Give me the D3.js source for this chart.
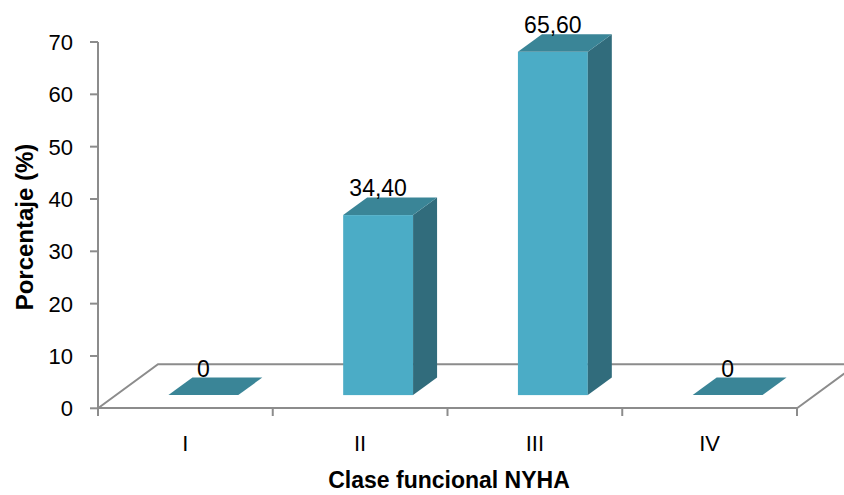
<!DOCTYPE html>
<html>
<head>
<meta charset="utf-8">
<script src="https://cdn.jsdelivr.net/npm/d3@7"></script>
<style>
  html, body { margin: 0; padding: 0; background: #fff; }
  svg { display: block; font-family: "Liberation Sans", Arial, sans-serif; }
</style>
</head>
<body>
<svg id="chart" width="844" height="495"></svg>
<script>
// NYHA functional class distribution (percent of patients)
const categories = ["I", "II", "III", "IV"];
const values = [0, 34.4, 65.6, 0];
const valueLabels = ["0", "34,40", "65,60", "0"];
const yTicks = [0, 10, 20, 30, 40, 50, 60, 70];

const svg = d3.select("#chart");

// Front plane of the 3D box
const left = 98, right = 797;
const x = d3.scaleBand().domain(categories).range([left, right]);
const y = d3.scaleLinear().domain([0, 70]).range([408.3, 42]);

// Floor depth offset and where each bar sits within that depth
const depthX = 60, depthY = -44;
const frontFrac = 0.3, backFrac = 0.7;
const barFrac = 0.4;

const axisColor = "#8c8c8c";
const frontColor = "#4bacc6";
const topColor = "#3a8597";
const sideColor = "#316c7c";

// Floor outline (left, back and right edges)
const y0 = y(0);
svg.append("path")
  .attr("d", `M${left},${y0} L${left + depthX},${y0 + depthY} L${right + depthX},${y0 + depthY} L${right},${y0}`)
  .attr("fill", "none")
  .attr("stroke", axisColor)
  .attr("stroke-width", 2);

// Bars
const bw = x.bandwidth() * barFrac;
const fx = depthX * frontFrac, fy = depthY * frontFrac;
const dx = depthX * (backFrac - frontFrac), dy = depthY * (backFrac - frontFrac);

const bars = svg.append("g").selectAll("g")
  .data(categories.map((c, i) => ({ c, v: values[i], label: valueLabels[i] })))
  .join("g");

bars.each(function (d) {
  const g = d3.select(this);
  const x1 = x(d.c) + x.bandwidth() / 2 + fx - bw / 2;
  const x2 = x1 + bw;
  const yb = y(0) + fy;
  const yt = y(d.v) + fy;
  if (d.v > 0) {
    // front face
    g.append("rect")
      .attr("x", x1).attr("y", yt)
      .attr("width", bw).attr("height", yb - yt)
      .attr("fill", frontColor);
    // right side face
    g.append("path")
      .attr("d", `M${x2},${yt} L${x2 + dx},${yt + dy} L${x2 + dx},${yb + dy} L${x2},${yb} Z`)
      .attr("fill", sideColor);
  }
  // top face
  g.append("path")
    .attr("d", `M${x1},${yt} L${x1 + dx},${yt + dy} L${x2 + dx},${yt + dy} L${x2},${yt} Z`)
    .attr("fill", topColor);
  // value label
  g.append("text")
    .attr("x", (x1 + x2) / 2)
    .attr("y", yt + dy - 1)
    .attr("text-anchor", "middle")
    .attr("font-size", 23)
    .attr("fill", "#000")
    .text(d.label);
});

// Category axis: front floor edge, ticks at band boundaries, labels
const xAxis = svg.append("g");
xAxis.append("line")
  .attr("x1", left).attr("x2", right)
  .attr("y1", 408).attr("y2", 408)
  .attr("stroke", axisColor).attr("stroke-width", 2);
const bounds = categories.map(c => x(c)).concat([right]);
xAxis.selectAll("line.tick")
  .data(bounds)
  .join("line")
  .attr("class", "tick")
  .attr("x1", d => d).attr("x2", d => d)
  .attr("y1", 408).attr("y2", 416)
  .attr("stroke", axisColor).attr("stroke-width", 2);
xAxis.selectAll("text")
  .data(categories)
  .join("text")
  .attr("x", d => x(d) + x.bandwidth() / 2)
  .attr("y", 451)
  .attr("text-anchor", "middle")
  .attr("font-size", 22)
  .attr("fill", "#000")
  .text(d => d);

// Value axis
const yAxis = svg.append("g");
yAxis.append("line")
  .attr("x1", left).attr("x2", left)
  .attr("y1", y(70)).attr("y2", 416)
  .attr("stroke", axisColor).attr("stroke-width", 2);
yAxis.selectAll("line.tick")
  .data(yTicks)
  .join("line")
  .attr("class", "tick")
  .attr("x1", left - 8).attr("x2", left)
  .attr("y1", d => y(d)).attr("y2", d => y(d))
  .attr("stroke", axisColor).attr("stroke-width", 2);
yAxis.selectAll("text")
  .data(yTicks)
  .join("text")
  .attr("x", 73)
  .attr("y", d => y(d))
  .attr("dy", "0.36em")
  .attr("text-anchor", "end")
  .attr("font-size", 22)
  .attr("fill", "#000")
  .text(d => d);

// Axis titles
svg.append("text")
  .attr("x", 449).attr("y", 488)
  .attr("text-anchor", "middle")
  .attr("font-size", 23)
  .attr("font-weight", "bold")
  .text("Clase funcional NYHA");

svg.append("text")
  .attr("transform", "translate(33,227) rotate(-90)")
  .attr("text-anchor", "middle")
  .attr("font-size", 24)
  .attr("font-weight", "bold")
  .text("Porcentaje (%)");
</script>
</body>
</html>
